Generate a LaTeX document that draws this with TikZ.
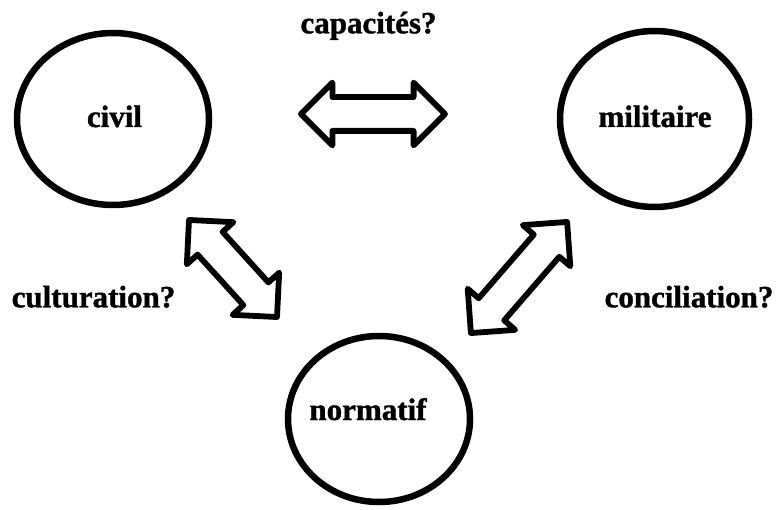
\documentclass[tikz,border=0pt]{standalone}
\usepackage{fontspec}
\setmainfont{Liberation Serif}[BoldFeatures={FakeBold=1.2}]
\usepackage{tikz}
\usetikzlibrary{shapes.geometric,shapes.arrows}

\begin{document}
\begin{tikzpicture}[x=1pt,y=1pt,
    every node/.style={inner sep=0,outer sep=0},
    zone/.style={draw,ellipse,line width=6.5pt},
    word/.style={anchor=base,font=\fontsize{31}{36}\selectfont\bfseries},
    twoway/.style={draw,double arrow,line width=5.8pt,line join=round,
      inner xsep=0pt,inner ysep=14pt,double arrow head extend=14.5pt,
      double arrow tip angle=90}]
    \useasboundingbox (0,0) rectangle (776,509);

    \node(civil)[zone,minimum width=192pt,minimum height=172pt] at (113,390) {};
    \node(militaire)[zone,minimum width=189pt,minimum height=176pt] at (654.5,390) {};
    \node(normatif)[zone,minimum width=182pt,minimum height=166pt] at (379,90) {};

    \node(tcivil)[word] at (114.5,382) {civil};
    \node(tmilitaire)[word] at (655,382) {militaire};
    \node(tnormatif)[word] at (368,89) {normatif};

    \node(capa)[twoway,minimum height=144pt] at (373,395) {};
    \node(cult)[twoway,minimum height=131pt,rotate=-47.8] at (233,240.5) {};
    \node(conc)[twoway,minimum height=147pt,rotate=49.1] at (519,231.5) {};

    \node(lcapa)[word] at (368.5,475.7) {capacités?};
    \node(lcult)[word] at (93.5,201.7) {culturation?};
    \node(lconc)[word] at (689,201.7) {conciliation?};
\end{tikzpicture}
\end{document}
